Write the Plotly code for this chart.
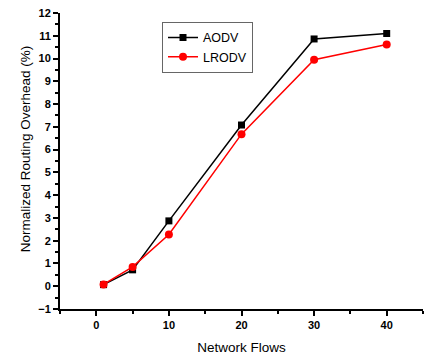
import plotly.graph_objects as go

flows = [1, 5, 10, 20, 30, 40]
aodv = [0.07, 0.72, 2.87, 7.08, 10.86, 11.1]
lrodv = [0.08, 0.85, 2.27, 6.68, 9.95, 10.62]

fig = go.Figure()
fig.add_trace(go.Scatter(x=flows, y=aodv, name="AODV", mode="lines+markers",
                         line=dict(color="black", width=1.5),
                         marker=dict(symbol="square", size=7, color="black")))
fig.add_trace(go.Scatter(x=flows, y=lrodv, name="LRODV", mode="lines+markers",
                         line=dict(color="#ff0000", width=1.5),
                         marker=dict(symbol="circle", size=8, color="#ff0000")))

axis_common = dict(showgrid=False, zeroline=False, showline=True, linecolor="black",
                   linewidth=2, ticks="outside", ticklen=5, tickwidth=2, tickcolor="black",
                   tickfont=dict(family="Arial", size=11, color="black", weight="bold"),
                   mirror=False, automargin=False)

fig.update_layout(
    width=430, height=358,
    margin=dict(l=60, r=7, t=13, b=49),
    plot_bgcolor="white", paper_bgcolor="white",
    font=dict(family="Arial", color="black"),
    xaxis=dict(range=[-5, 45], tickvals=[0, 10, 20, 30, 40],
               minor=dict(tickvals=[-5, 5, 15, 25, 35, 45], ticks="outside", ticklen=3, tickwidth=2, tickcolor="black"),
               title=dict(text="Network Flows", font=dict(family="Arial", size=13.5), standoff=12),
               **axis_common),
    yaxis=dict(range=[-1, 12], tickvals=list(range(-1, 13)),
               minor=dict(tickvals=[v + 0.5 for v in range(-1, 12)], ticks="outside", ticklen=3, tickwidth=2, tickcolor="black"),
               **axis_common),
    legend=dict(x=0.281, y=0.97, xanchor="left", yanchor="top",
                bordercolor="#666666", borderwidth=1, bgcolor="white",
                font=dict(family="Arial", size=12.5, color="black"),
                itemwidth=30, tracegroupgap=0),
    showlegend=True,
    annotations=[dict(text="Normalized Routing Overhead (%)", textangle=-90,
                      xref="paper", yref="paper", x=-0.0964, y=0.54,
                      xanchor="center", yanchor="middle", showarrow=False,
                      font=dict(family="Arial", size=13.5, color="black"))],
)

fig.write_html("out.html", config={"displayModeBar": False},
               post_script="document.body.style.margin='0';document.body.style.overflow='hidden';")
